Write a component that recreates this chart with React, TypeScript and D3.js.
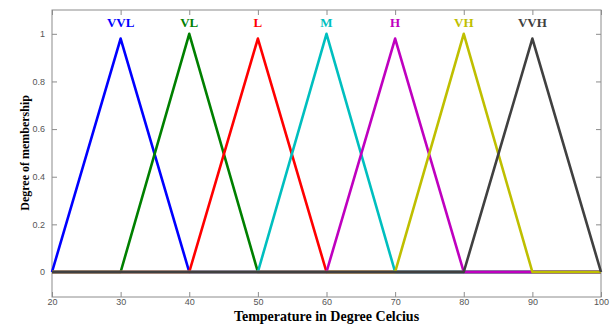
import React, { useEffect, useRef } from 'react';
import * as d3 from 'd3';

// membership function sample points (temperature)
const temps = [20, 30, 40, 50, 60, 70, 80, 90, 100];
const names = ['VVL', 'VL', 'L', 'M', 'H', 'VH', 'VVH'];
const colors = ['#0000ff', '#008000', '#ff0000', '#00bfbf', '#bf00bf', '#bfbf00', '#404040'];
// degree of membership at each temperature in temps
const vvl = [0, 0.98, 0, 0, 0, 0, 0, 0, 0];
const vl = [0, 0, 1, 0, 0, 0, 0, 0, 0];
const l = [0, 0, 0, 0.98, 0, 0, 0, 0, 0];
const m = [0, 0, 0, 0, 1, 0, 0, 0, 0];
const h = [0, 0, 0, 0, 0, 0.98, 0, 0, 0];
const vh = [0, 0, 0, 0, 0, 0, 1, 0, 0];
const vvh = [0, 0, 0, 0, 0, 0, 0, 0.98, 0];
const seriesValues = [vvl, vl, l, m, h, vh, vvh];
const peaks = [30, 40, 50, 60, 70, 80, 90];
const xTicks = [20, 30, 40, 50, 60, 70, 80, 90, 100];
const yTicks = [0, 0.2, 0.4, 0.6, 0.8, 1];

const width = 613;
const height = 325;

const App = () => {
    const ref = useRef<SVGSVGElement>(null);

    useEffect(() => {
        const svg = d3.select(ref.current);
        svg.selectAll('*').remove();

        const margin = { top: 10, right: 12, bottom: 28, left: 52 };
        const x = d3.scaleLinear().domain([20, 100]).range([margin.left, width - margin.right]);
        const y = d3.scaleLinear().domain([-0.105, 1.1]).range([height - margin.bottom, margin.top]);

        const box = '#8c8c8c';
        const tickLen = 5;
        const g = svg.append('g');

        // frame
        g.append('rect')
            .attr('x', x(20)).attr('y', y(1.1))
            .attr('width', x(100) - x(20)).attr('height', y(-0.105) - y(1.1))
            .attr('fill', 'none').attr('stroke', box).attr('stroke-width', 1);

        // ticks point inward, matlab style
        const bottom = g.append('g')
            .attr('transform', `translate(0,${y(-0.105)})`)
            .call(d3.axisBottom(x).tickValues(xTicks).tickSizeInner(-tickLen).tickSizeOuter(0).tickPadding(2));
        const top = g.append('g')
            .attr('transform', `translate(0,${y(1.1)})`)
            .call(d3.axisTop(x).tickValues(xTicks).tickSizeInner(-tickLen).tickSizeOuter(0).tickFormat(() => ''));
        const left = g.append('g')
            .attr('transform', `translate(${x(20)},0)`)
            .call(d3.axisLeft(y).tickValues(yTicks).tickSizeInner(-tickLen).tickSizeOuter(0).tickPadding(7)
                .tickFormat(d => d3.format('')(d as number)));
        const right = g.append('g')
            .attr('transform', `translate(${x(100)},0)`)
            .call(d3.axisRight(y).tickValues(yTicks).tickSizeInner(-tickLen).tickSizeOuter(0).tickFormat(() => ''));

        [bottom, top, left, right].forEach(a => {
            a.select('.domain').remove();
            a.selectAll('line').attr('stroke', box);
            a.selectAll('text')
                .attr('fill', '#555')
                .style('font-family', 'Liberation Sans, Arial, sans-serif')
                .style('font-size', '9px');
        });

        // series lines
        const line = d3.line<number>()
            .x((_, i) => x(temps[i]))
            .y(d => y(d));

        seriesValues.forEach((vals, i) => {
            g.append('path')
                .datum(vals)
                .attr('d', line)
                .attr('fill', 'none')
                .attr('stroke', colors[i])
                .attr('stroke-width', 2.6)
                .attr('stroke-linejoin', 'round');
        });

        // series names
        g.selectAll('.name')
            .data(names)
            .enter().append('text')
            .attr('class', 'name')
            .attr('x', (_, i) => x(peaks[i]))
            .attr('y', 27)
            .attr('text-anchor', 'middle')
            .attr('fill', (_, i) => colors[i])
            .style('font-family', 'Liberation Serif, Times New Roman, serif')
            .style('font-weight', 'bold')
            .style('font-size', '13px')
            .text(d => d);

        // axis titles
        svg.append('text')
            .attr('x', (x(20) + x(100)) / 2)
            .attr('y', 321)
            .attr('text-anchor', 'middle')
            .style('font-family', 'Liberation Serif, Times New Roman, serif')
            .style('font-weight', 'bold')
            .style('font-size', '14px')
            .text('Temperature in Degree Celcius');

        svg.append('text')
            .attr('transform', `translate(29,${y(0.5)}) rotate(-90)`)
            .attr('text-anchor', 'middle')
            .style('font-family', 'Liberation Serif, Times New Roman, serif')
            .style('font-weight', 'bold')
            .style('font-size', '12px')
            .text('Degree of membership');
    }, []);

    return (
        <svg ref={ref} width={width} height={height} style={{ position: 'absolute', left: 0, top: 0, background: '#fff' }} />
    );
};

export default App;
